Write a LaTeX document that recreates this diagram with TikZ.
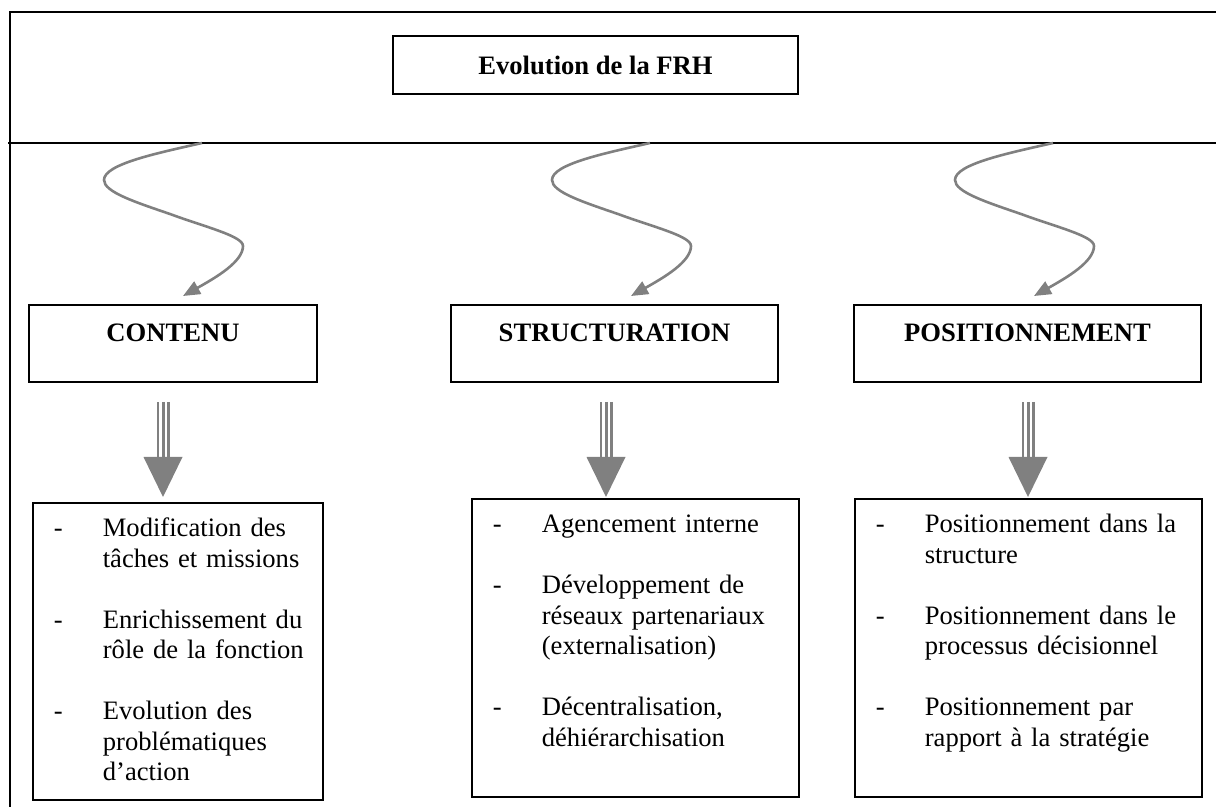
\documentclass[tikz,border=0pt]{standalone}
\usepackage{fontspec}
\setmainfont{Liberation Serif}
\usetikzlibrary{arrows.meta,positioning}
\usepackage{xcolor}
\definecolor{ArrowGray}{RGB}{128,128,128}
\newcommand{\tiret}[1]{\makebox[24.5pt][l]{-}\mbox{#1}}
\newcommand{\suite}[1]{\hspace*{24.5pt}\mbox{#1}}
\tikzset{
  cadre/.style={draw=black,line width=0.9pt},
  tbox/.style={rectangle,draw=black,line width=0.85pt,
               font=\fontsize{13.3pt}{15.25pt}\selectfont\bfseries,inner sep=0pt},
  hbox/.style={tbox,text height=18.5pt,text depth=20pt},
  lbox/.style={rectangle,draw=black,line width=0.85pt,anchor=north west,
               font=\fontsize{13.3pt}{15.25pt}\selectfont,align=left,
               inner xsep=10.5pt,inner ysep=0pt,text height=17pt},
  wave/.style={draw=ArrowGray,line width=1.3pt,-{Triangle[length=8.5pt,width=7pt]}},
  tshaft/.style={draw=ArrowGray,line width=6.5pt,
                 postaction={draw=white,line width=3.6pt},
                 postaction={draw=ArrowGray,line width=1.5pt}},
  thead/.style={fill=ArrowGray},
}

\begin{document}
\begin{tikzpicture}[x=0.5pt,y=-0.5pt]
  \useasboundingbox (0,0) rectangle (1216,807);
  % outer frame
  \draw[cadre] (10,807) -- (10,12) -- (1216,12);
  \draw[cadre] (8,143) -- (1216,143);
  %
  \node[tbox,minimum width=202.5pt,minimum height=29pt] (titre) at (595.5,65) {Evolution de la FRH};
  %
  \node[hbox,minimum width=144pt] (hcont) at (173,343.5) {CONTENU};
  \node[hbox,minimum width=163.5pt] (hstruc) at (614.5,343.5) {STRUCTURATION};
  \node[hbox,minimum width=173.5pt] (hposi) at (1027.5,343.5) {POSITIONNEMENT};
  %
  \node[lbox,text width=124pt,text depth=131.5pt] (lcont) at (32,502) {%
    \tiret{Modification des}\\
    \suite{tâches et missions}\\[15.25pt]
    \tiret{Enrichissement du}\\
    \suite{rôle de la fonction}\\[15.25pt]
    \tiret{Evolution des}\\
    \suite{problématiques}\\
    \suite{d'action}};
  \node[lbox,text width=142.5pt,text depth=132pt] (lstruc) at (471,498) {%
    \tiret{Agencement interne}\\[15.25pt]
    \tiret{Développement de}\\
    \suite{réseaux partenariaux}\\
    \suite{(externalisation)}\\[15.25pt]
    \tiret{Décentralisation,}\\
    \suite{déhiérarchisation}};
  \node[lbox,text width=152.5pt,text depth=132pt] (lposi) at (854,498) {%
    \tiret{Positionnement dans la}\\
    \suite{structure}\\[15.25pt]
    \tiret{Positionnement dans le}\\
    \suite{processus décisionnel}\\[15.25pt]
    \tiret{Positionnement par}\\
    \suite{rapport à la stratégie}};
  %
  \foreach \dx/\hn in {0/cont,448/struc,851/posi}{
    \begin{scope}[shift={(\dx,0)}]
      \coordinate (s\hn) at (202,143);
      \coordinate (e\hn) at (183,296);
      \draw[wave] (s\hn) .. controls (158,153) and (104,164) .. (104,180)
        .. controls (104,192) and (135,202) .. (170,214)
        .. controls (205,227) and (243,236) .. (243,246)
        .. controls (243,262) and (215,278) .. (e\hn);
    \end{scope}
  }
  %
  \foreach \x/\hn in {163/cont,606/struc,1028/posi}{
    \coordinate (top\hn) at (\x,402);
    \coordinate (tip\hn) at (\x,497);
    \draw[tshaft] (top\hn) -- ([yshift=20pt]tip\hn);
    \fill[thead] (tip\hn) -- ++(-19.5,-40) -- ++(39,0) -- cycle;
  }
\end{tikzpicture}
\end{document}
